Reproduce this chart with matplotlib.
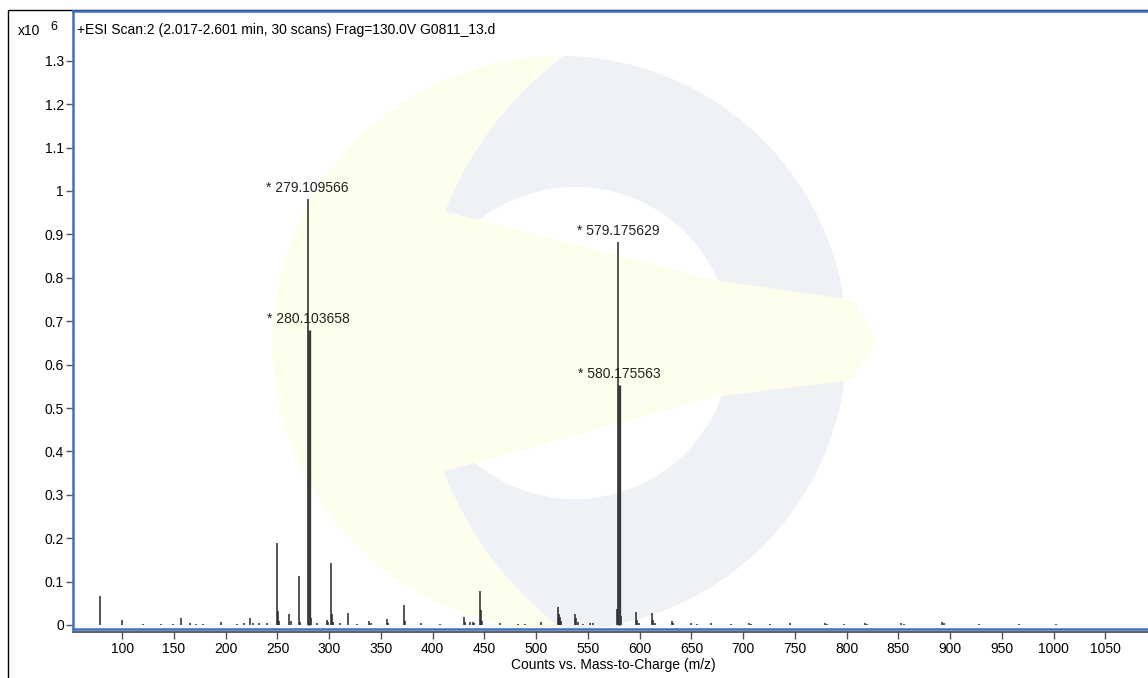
import matplotlib
matplotlib.use('Agg')
import matplotlib.pyplot as plt
from matplotlib.patches import Circle, Polygon, Rectangle

plt.rcParams['font.family'] = ['Liberation Sans', 'DejaVu Sans']

# centroid peaks: m/z and counts (x10^6)
mz = [78.5, 100.0, 120.0, 137.0, 149.0, 156.8, 165.0, 171.0, 178.0, 195.5,
      211.0, 218.0, 223.5, 226.0, 232.0, 240.0, 249.1, 250.1, 251.5, 261.5,
      263.0, 270.6, 272.0, 279.109566, 281.1, 282.1, 288.0, 297.8, 299.0,
      301.6, 302.6, 304.0, 310.0, 318.2, 327.0, 338.6, 340.0, 356.0, 357.0,
      372.1, 373.1, 389.0, 407.0, 430.5, 431.5, 436.5, 438.5, 440.0, 445.6,
      446.6, 448.0, 465.0, 482.0, 489.0, 504.7, 520.7, 521.7, 522.7, 524.0,
      537.4, 538.4, 540.0, 545.0, 552.0, 555.0, 578.2, 579.175629, 581.18,
      582.2, 596.6, 597.6, 599.0, 612.2, 613.2, 614.5, 631.0, 632.0, 650.0,
      655.0, 669.0, 688.0, 706.0, 708.0, 726.0, 745.0, 779.0, 781.0, 797.0,
      818.0, 820.0, 853.0, 855.0, 892.5, 894.0, 928.0, 967.0, 1002.0]
counts = [0.066, 0.012, 0.003, 0.003, 0.003, 0.016, 0.004, 0.003, 0.003, 0.006,
          0.003, 0.004, 0.016, 0.005, 0.004, 0.004, 0.190, 0.032, 0.009, 0.026,
          0.009, 0.113, 0.006, 0.982, 0.109, 0.015, 0.004, 0.012, 0.006,
          0.144, 0.025, 0.008, 0.004, 0.027, 0.003, 0.010, 0.004, 0.013, 0.004,
          0.047, 0.010, 0.004, 0.003, 0.018, 0.008, 0.008, 0.007, 0.005, 0.079,
          0.034, 0.010, 0.004, 0.003, 0.003, 0.006, 0.042, 0.025, 0.018, 0.010,
          0.026, 0.016, 0.006, 0.003, 0.005, 0.004, 0.038, 0.883, 0.137,
          0.020, 0.030, 0.012, 0.005, 0.028, 0.012, 0.005, 0.009, 0.004, 0.004,
          0.003, 0.005, 0.003, 0.005, 0.003, 0.003, 0.005, 0.005, 0.003, 0.003,
          0.005, 0.003, 0.005, 0.003, 0.007, 0.004, 0.003, 0.003, 0.003]

# broader isotope peaks
iso_mz = [280.103658, 580.175563]
iso_counts = [0.679, 0.553]

labeled_mz = [279.109566, 280.103658, 579.175629, 580.175563]
labeled_counts = [0.982, 0.679, 0.883, 0.553]

xticks = list(range(100, 1051, 50))
yticks = [0, 0.1, 0.2, 0.3, 0.4, 0.5, 0.6, 0.7, 0.8, 0.9, 1.0, 1.1, 1.2, 1.3]
ytick_labels = ['0', '0.1', '0.2', '0.3', '0.4', '0.5', '0.6', '0.7', '0.8',
                '0.9', '1', '1.1', '1.2', '1.3']

title = '+ESI Scan:2 (2.017-2.601 min, 30 scans) Frag=130.0V G0811_13.d'
blue = '#3d6fc6'
pale = '#fefeec'

W, H = 1148, 678
fig = plt.figure(figsize=(W / 100, H / 100), dpi=100)

# faint watermark logo behind the plot
bg = fig.add_axes([0, 0, 1, 1], zorder=0)
bg.set_xlim(0, W)
bg.set_ylim(H, 0)
bg.axis('off')
outer = Circle((560, 343), 287, facecolor=pale, edgecolor='none')
bg.add_patch(outer)
gray = Circle((778, 343), 358, facecolor='#eef1f5', edgecolor='none')
bg.add_patch(gray)
gray.set_clip_path(outer)
bg.add_patch(Circle((575, 343), 156, facecolor='white', edgecolor='none'))
bg.add_patch(Polygon([(380, 195), (714, 280), (852, 300), (877, 338),
                      (852, 380), (714, 397), (380, 489)],
                     facecolor=pale, edgecolor='none'))

# outer black frame
bg.add_patch(Rectangle((8, 10), 2000, 2000, facecolor='none',
                       edgecolor='black', linewidth=1.0))

ax = fig.add_axes([73 / W, (H - 629) / H, 1080 / W, 618 / H], zorder=1)
ax.set_facecolor('none')

ax.vlines(mz, 0, counts, colors='#262626', linewidth=1.1)
ax.vlines(iso_mz, 0, iso_counts, colors='#3a3a3a', linewidth=2.4)

for m, c in zip(labeled_mz, labeled_counts):
    ax.annotate(f'* {m}', (m, c), xytext=(0, 3), textcoords='offset points',
                ha='center', va='bottom', fontsize=10, color='#222222')

ax.set_xlim(52.4, 52.4 + 1080 / 1.0348)
ax.set_ylim(-4 / 434, 614 / 434)

for side in ['left', 'top', 'bottom', 'right']:
    ax.spines[side].set_color(blue)
    ax.spines[side].set_linewidth(1.8)

ax.set_yticks(yticks)
ax.set_yticklabels(ytick_labels)
ax.tick_params(axis='y', direction='out', length=5, width=1, color='#555555',
               pad=1.5, labelsize=10)
ax.tick_params(axis='x', length=0, labelbottom=False)

sec = ax.secondary_xaxis(-3 / 618)
sec.spines['bottom'].set_color('#444444')
sec.spines['bottom'].set_linewidth(1.2)
sec.set_xticks(xticks)
sec.tick_params(direction='out', length=5, width=1, color='#555555',
                pad=2, labelsize=10)
sec.set_xlabel('Counts vs. Mass-to-Charge (m/z)', fontsize=10, labelpad=2)

ax.text(4 / 1080, 1 - 19 / 618, title, transform=ax.transAxes,
        ha='left', va='center', fontsize=10)
fig.text(18 / W, 1 - 31 / H, 'x10', ha='left', va='center', fontsize=10)
fig.text(50 / W, 1 - 27 / H, '6', ha='left', va='center', fontsize=9)

fig.savefig('out.png', dpi=100)
